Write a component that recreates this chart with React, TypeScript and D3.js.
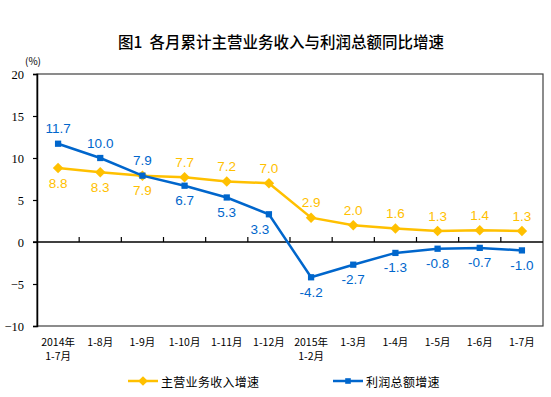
import React, { useRef, useEffect } from "react";
import * as d3 from "d3";

const categories = [
  "2014年\n1-7月",
  "1-8月",
  "1-9月",
  "1-10月",
  "1-11月",
  "1-12月",
  "2015年\n1-2月",
  "1-3月",
  "1-4月",
  "1-5月",
  "1-6月",
  "1-7月",
];
const revenueGrowth = [8.8, 8.3, 7.9, 7.7, 7.2, 7.0, 2.9, 2.0, 1.6, 1.3, 1.4, 1.3];
const profitGrowth = [11.7, 10.0, 7.9, 6.7, 5.3, 3.3, -4.2, -2.7, -1.3, -0.8, -0.7, -1.0];
// where each value label sits relative to its point
const revenueLabelPos = ["below", "below", "below", "above", "above", "above", "above", "above", "above", "above", "above", "above"];
const profitLabelPos = ["above", "above", "above", "below", "below", "belowLeft", "below", "below", "below", "below", "below", "below"];
const yTicks = [-10, -5, 0, 5, 10, 15, 20];
const seriesNames = ["主营业务收入增速", "利润总额增速"];

const YELLOW = "#FFC000";
const BLUE = "#0066CC";

const App = () => {
  const chartRef = useRef<SVGSVGElement>(null);

  useEffect(() => {
    const svg = d3.select(chartRef.current);
    svg.selectAll("*").remove();

    const margin = { top: 74, right: 8, bottom: 71, left: 37 };
    const width = 551;
    const height = 397;
    const x0 = margin.left;
    const x1 = width - margin.right;
    const yTop = margin.top;
    const yBottom = height - margin.bottom;

    const xScale = d3.scaleBand().domain(categories).range([x0, x1]).padding(0);
    const yScale = d3.scaleLinear().domain([-10, 20]).range([yBottom, yTop]);
    const cx = (i) => xScale(categories[i]) + xScale.bandwidth() / 2;

    // title
    svg
      .append("text")
      .attr("x", 281)
      .attr("y", 41)
      .attr("text-anchor", "middle")
      .attr("dominant-baseline", "central")
      .attr("font-family", "'Noto Sans CJK SC', sans-serif")
      .attr("font-size", 15.5)
      .attr("font-weight", 500)
      .attr("fill", "#000")
      .attr("xml:space", "preserve")
      .text("图1  各月累计主营业务收入与利润总额同比增速");

    svg
      .append("text")
      .attr("x", 33)
      .attr("y", 60)
      .attr("text-anchor", "middle")
      .attr("dominant-baseline", "central")
      .attr("font-family", "'Noto Sans CJK SC', sans-serif")
      .attr("font-size", 10)
      .text("(%)");

    // frame
    svg
      .append("rect")
      .attr("x", x0)
      .attr("y", yTop)
      .attr("width", x1 - x0)
      .attr("height", yBottom - yTop)
      .attr("fill", "none")
      .attr("stroke", "#404040")
      .attr("stroke-width", 1.2);

    // y axis
    const yAxis = svg
      .append("g")
      .attr("transform", `translate(${x0},0)`)
      .call(d3.axisLeft(yScale).tickValues(yTicks).tickSize(4).tickPadding(9));
    yAxis.select(".domain").attr("stroke", "#000").attr("stroke-width", 1.5);
    yAxis.selectAll(".tick line").attr("stroke", "#000").attr("stroke-width", 1.2);
    yAxis
      .selectAll(".tick text")
      .attr("font-family", "'Liberation Serif', serif")
      .attr("font-size", 12.5)
      .attr("fill", "#000");

    // zero line with ticks at band boundaries (pointing up)
    svg
      .append("line")
      .attr("x1", x0 - 4)
      .attr("x2", x1)
      .attr("y1", yScale(0))
      .attr("y2", yScale(0))
      .attr("stroke", "#000")
      .attr("stroke-width", 1.5);
    svg
      .append("g")
      .selectAll("line")
      .data(categories.slice(1))
      .join("line")
      .attr("x1", (d) => xScale(d))
      .attr("x2", (d) => xScale(d))
      .attr("y1", yScale(0))
      .attr("y2", yScale(0) - 5)
      .attr("stroke", "#000")
      .attr("stroke-width", 1.2);

    // category labels
    const catG = svg
      .append("g")
      .attr("font-family", "'Noto Sans CJK SC', sans-serif")
      .attr("font-size", 10.5)
      .attr("fill", "#000")
      .attr("text-anchor", "middle");
    categories.forEach((c, i) => {
      c.split("\n").forEach((part, j) => {
        catG
          .append("text")
          .attr("x", cx(i))
          .attr("y", yBottom + 15 + j * 14)
          .attr("dominant-baseline", "central")
          .text(part);
      });
    });

    const line = d3
      .line<number>()
      .x((d, i) => cx(i))
      .y((d) => yScale(d));

    const drawSeries = (values, color, marker, labelPos) => {
      svg
        .append("path")
        .datum(values)
        .attr("fill", "none")
        .attr("stroke", color)
        .attr("stroke-width", 2.5)
        .attr("d", line);

      const sym = d3
        .symbol()
        .type(marker === "diamond" ? d3.symbolDiamond2 : d3.symbolSquare2)
        .size(marker === "diamond" ? 70 : 50);
      svg
        .append("g")
        .selectAll("path")
        .data(values)
        .join("path")
        .attr("transform", (d, i) => `translate(${cx(i)},${yScale(d)})`)
        .attr("d", sym)
        .attr("fill", color)
        .attr("stroke", "none");

      svg
        .append("g")
        .selectAll("text")
        .data(values)
        .join("text")
        .attr("x", (d, i) => cx(i) + (labelPos[i] === "belowLeft" ? -9 : 0))
        .attr("y", (d, i) => yScale(d) + (labelPos[i] === "above" ? -15 : 15))
        .attr("text-anchor", "middle")
        .attr("dominant-baseline", "central")
        .attr("font-family", "'Liberation Sans', Arial, sans-serif")
        .attr("font-size", 13.5)
        .attr("fill", color)
        .text((d) => d.toFixed(1));
    };

    drawSeries(revenueGrowth, YELLOW, "diamond", revenueLabelPos);
    drawSeries(profitGrowth, BLUE, "square", profitLabelPos);

    // legend
    const legendItems = [
      { name: seriesNames[0], color: YELLOW, marker: d3.symbolDiamond2, size: 60, x: 128 },
      { name: seriesNames[1], color: BLUE, marker: d3.symbolSquare2, size: 40, x: 333 },
    ];
    const ly = 381;
    legendItems.forEach((item) => {
      const g = svg.append("g");
      g.append("line")
        .attr("x1", item.x)
        .attr("x2", item.x + 30)
        .attr("y1", ly)
        .attr("y2", ly)
        .attr("stroke", item.color)
        .attr("stroke-width", 2.5);
      g.append("path")
        .attr("transform", `translate(${item.x + 15},${ly})`)
        .attr("d", d3.symbol().type(item.marker).size(item.size))
        .attr("fill", item.color);
      g.append("text")
        .attr("x", item.x + 33)
        .attr("y", ly)
        .attr("dominant-baseline", "central")
        .attr("font-family", "'Noto Sans CJK SC', sans-serif")
        .attr("font-size", 12)
        .attr("letter-spacing", 0.3)
        .attr("fill", "#000")
        .text(item.name);
    });
  }, []);

  return (
    <svg
      ref={chartRef}
      width={551}
      height={397}
      style={{ position: "absolute", left: 0, top: 0, background: "#fff" }}
    ></svg>
  );
};

export default App;
